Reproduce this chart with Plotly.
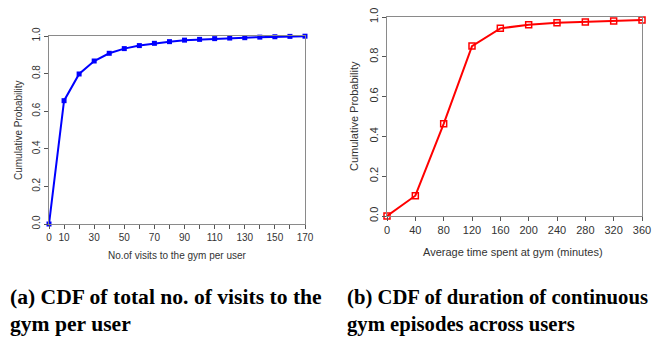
import plotly.graph_objects as go

# Data
visits_x = [0, 10, 20, 30, 40, 50, 60, 70, 80, 90, 100, 110, 120, 130, 140, 150, 160, 170]
visits_cdf = [0.0, 0.656, 0.798, 0.867, 0.908, 0.933, 0.949, 0.961, 0.970, 0.978, 0.982,
              0.986, 0.989, 0.991, 0.994, 0.996, 0.998, 0.999]
visits_ticks = list(range(0, 171, 10))
visits_ticklabels = ["0", "10", "", "30", "", "50", "", "70", "", "90", "", "110", "", "130", "", "150", "", "170"]

time_x = [0, 40, 80, 120, 160, 200, 240, 280, 320, 360]
time_cdf = [0.0, 0.102, 0.463, 0.854, 0.943, 0.961, 0.971, 0.975, 0.980, 0.985]
time_ticks = [0, 40, 80, 120, 160, 200, 240, 280, 320, 360]

y_ticks = [0, 0.2, 0.4, 0.6, 0.8, 1.0]
y_ticklabels = ["0.0", "0.2", "0.4", "0.6", "0.8", "1.0"]

caption_a = ["(a) CDF of total no. of visits to the", "gym per user"]
caption_b = ["(b) CDF of duration of continuous", "gym episodes across users"]

W, H = 656, 337

def px_x(p):
    return p / W

def px_y(p):
    return (H - p) / H

fig = go.Figure()

fig.add_trace(go.Scatter(
    x=visits_x, y=visits_cdf, mode="lines+markers",
    line=dict(color="#0000ff", width=2),
    marker=dict(symbol="square", size=5, color="#0000ff"),
    cliponaxis=False, xaxis="x", yaxis="y", showlegend=False))

fig.add_trace(go.Scatter(
    x=time_x, y=time_cdf, mode="lines+markers",
    line=dict(color="#ff0000", width=2),
    marker=dict(symbol="square-open", size=6, color="#ff0000", line=dict(width=1.5)),
    cliponaxis=False, xaxis="x2", yaxis="y2", showlegend=False))

axis_common = dict(showgrid=False, zeroline=False, showline=True, mirror=True,
                   linecolor="#8a8a8a", linewidth=1, ticks="outside", ticklen=4,
                   tickcolor="#555", tickwidth=1, automargin=False)

fig.update_layout(
    width=W, height=H,
    margin=dict(l=0, r=0, t=0, b=0, autoexpand=False),
    plot_bgcolor="white", paper_bgcolor="white",
    font=dict(family="Liberation Sans, Arial", color="#333"),
    xaxis=dict(domain=[px_x(49), px_x(305)], range=[0, 170], anchor="y",
               tickvals=visits_ticks, ticktext=visits_ticklabels,
               tickfont=dict(size=10), **axis_common),
    yaxis=dict(domain=[px_y(224), px_y(36)], range=[0, 1], anchor="x",
               tickvals=y_ticks, ticktext=y_ticklabels, tickangle=-90,
               tickfont=dict(size=10), **axis_common),
    xaxis2=dict(domain=[px_x(387), px_x(642)], range=[0, 360], anchor="y2",
                tickvals=time_ticks, tickfont=dict(size=11), **axis_common),
    yaxis2=dict(domain=[px_y(216), px_y(17)], range=[0, 1], anchor="x2",
                tickvals=y_ticks, ticktext=y_ticklabels, tickangle=-90,
                tickfont=dict(size=11), **axis_common),
)

ann = [
    dict(text="Cumulative Probability", x=px_x(18), y=px_y(130), textangle=-90,
         font=dict(size=10, color="#333")),
    dict(text="No.of visits to the gym per user", x=px_x(177), y=px_y(255),
         font=dict(size=10, color="#333")),
    dict(text="Cumulative Probability", x=px_x(354), y=px_y(116), textangle=-90,
         font=dict(size=11, color="#333")),
    dict(text="Average time spent at gym (minutes)", x=px_x(513), y=px_y(252),
         font=dict(size=11, color="#333")),
]
for a in ann:
    fig.add_annotation(xref="paper", yref="paper", showarrow=False,
                       xanchor="center", yanchor="middle", **a)

for lines, x0, fs in [(caption_a, 8, 21.6), (caption_b, 345, 20.7)]:
    for i, line in enumerate(lines):
        fig.add_annotation(text="<b>" + line + "</b>", xref="paper", yref="paper",
                           x=px_x(x0), y=px_y(297 + 27 * i), xanchor="left", yanchor="middle",
                           showarrow=False,
                           font=dict(family="Liberation Serif, Times New Roman", size=fs,
                                     color="black"))

fig.write_html("out.html", config={"displayModeBar": False},
               post_script="document.body.style.margin='0';document.body.style.overflow='hidden';")
